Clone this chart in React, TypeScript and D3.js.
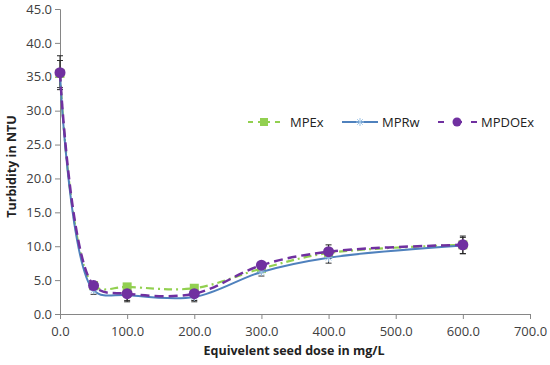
import { useEffect, useRef } from 'react';
import * as d3 from 'd3';

// Turbidity vs seed dose — three smoothed series with error bars, Excel style.

const doses = [0, 50, 100, 200, 300, 400, 600];
const mpex = [35.5, 4.2, 4.0, 3.8, 6.7, 9.0, 10.2];
const mprw = [35.4, 3.5, 2.8, 2.5, 6.2, 8.3, 10.1];
const mpdoex = [35.6, 4.2, 3.0, 3.0, 7.2, 9.2, 10.2];
const mprwErr = [2.0, 0.6, 0.8, 0.7, 0.6, 0.8, 1.2];
const mpdoexErr = [2.5, 0.6, 1.2, 1.0, 0.5, 1.0, 1.3];

const xTicks = [0, 100, 200, 300, 400, 500, 600, 700];
const yTicks = [0, 5, 10, 15, 20, 25, 30, 35, 40, 45];

const GREEN = '#92D050';
const BLUE = '#4F81BD';
const PURPLE = '#7030A0';
const FONT = '"Open Sans", "Liberation Sans", sans-serif';

export default function App() {
  const svgRef = useRef<SVGSVGElement>(null);

  useEffect(() => {
    const svg = d3.select(svgRef.current);
    svg.selectAll('*').remove();

    const x = d3.scaleLinear().domain([0, 700]).range([60, 530]);
    const y = d3.scaleLinear().domain([0, 45]).range([314, 9]);
    const curve = d3.curveCatmullRom.alpha(0.5);

    // Axes
    const xAxis = svg.append('g').attr('transform', `translate(0,${y(0)})`)
      .call(d3.axisBottom(x).tickValues(xTicks).tickFormat(d3.format('.1f')).tickSizeOuter(0).tickSize(5));
    const yAxis = svg.append('g').attr('transform', `translate(${x(0)},0)`)
      .call(d3.axisLeft(y).tickValues(yTicks).tickFormat(d3.format('.1f')).tickSizeOuter(0).tickSize(5));
    for (const ax of [xAxis, yAxis]) {
      ax.select('.domain').attr('stroke', '#868686');
      ax.selectAll('.tick line').attr('stroke', '#868686');
      ax.selectAll('.tick text')
        .attr('fill', '#404040').attr('font-size', 13).attr('font-family', FONT);
    }
    xAxis.selectAll('.tick text').attr('dy', '1.1em');
    yAxis.selectAll('.tick text').attr('x', -8);

    svg.append('text')
      .attr('x', 294).attr('y', 355).attr('text-anchor', 'middle')
      .attr('font-size', 12.5).attr('font-weight', 'bold').attr('font-family', FONT).attr('fill', '#222')
      .text('Equivelent seed dose in mg/L');
    svg.append('text')
      .attr('transform', `translate(16,${(y(0) + y(45)) / 2 + 5}) rotate(-90)`)
      .attr('text-anchor', 'middle')
      .attr('font-size', 12.5).attr('font-weight', 'bold').attr('font-family', FONT).attr('fill', '#222')
      .text('Turbidity in NTU');

    const line = d3.line<number>().x((_, i) => x(doses[i])).y((v) => y(v)).curve(curve);

    // Error bars
    const errs: [number[], number[], string][] = [[mprw, mprwErr, '#333'], [mpdoex, mpdoexErr, '#222']];
    for (const [vals, err, col] of errs) {
      vals.forEach((v, i) => {
        const cx = x(doses[i]);
        const y1 = y(v - err[i]);
        const y2 = y(v + err[i]);
        svg.append('line').attr('x1', cx).attr('x2', cx).attr('y1', y1).attr('y2', y2)
          .attr('stroke', col).attr('stroke-width', 1);
        for (const yy of [y1, y2]) {
          svg.append('line').attr('x1', cx - 3).attr('x2', cx + 3).attr('y1', yy).attr('y2', yy)
            .attr('stroke', col).attr('stroke-width', 1);
        }
      });
    }

    // MPEx — green dash-dot with squares
    svg.append('path').datum(mpex).attr('d', line)
      .attr('fill', 'none').attr('stroke', GREEN).attr('stroke-width', 2.2)
      .attr('stroke-dasharray', '8,4,2,4');
    mpex.forEach((v, i) => {
      svg.append('rect').attr('x', x(doses[i]) - 4.5).attr('y', y(v) - 4.5)
        .attr('width', 9).attr('height', 9).attr('fill', GREEN);
    });

    // MPRw — blue solid with star markers
    svg.append('path').datum(mprw).attr('d', line)
      .attr('fill', 'none').attr('stroke', BLUE).attr('stroke-width', 2);
    const star = (cx: number, cy: number, g: d3.Selection<SVGGElement, unknown, null, undefined>) => {
      const r = 4;
      g.append('path')
        .attr('d', `M${cx - r},${cy}H${cx + r}M${cx - r * 0.7},${cy - r * 0.7}L${cx + r * 0.7},${cy + r * 0.7}M${cx - r * 0.7},${cy + r * 0.7}L${cx + r * 0.7},${cy - r * 0.7}M${cx},${cy - r}V${cy + r}`)
        .attr('stroke', '#9DC3E6').attr('stroke-width', 1).attr('fill', 'none');
    };
    const starG = svg.append('g');
    mprw.forEach((v, i) => star(x(doses[i]), y(v), starG));

    // MPDOEx — purple dashed with circles
    svg.append('path').datum(mpdoex).attr('d', line)
      .attr('fill', 'none').attr('stroke', PURPLE).attr('stroke-width', 2.5)
      .attr('stroke-dasharray', '9,5');
    mpdoex.forEach((v, i) => {
      svg.append('circle').attr('cx', x(doses[i])).attr('cy', y(v)).attr('r', 5.5).attr('fill', PURPLE);
    });

    // Legend
    const ly = 122;
    const lg = svg.append('g').attr('font-family', FONT).attr('font-size', 13).attr('fill', '#222');
    lg.append('line').attr('x1', 248).attr('x2', 280).attr('y1', ly).attr('y2', ly)
      .attr('stroke', GREEN).attr('stroke-width', 2.2).attr('stroke-dasharray', '5,5,12,5,5');
    lg.append('rect').attr('x', 260).attr('y', ly - 4).attr('width', 8).attr('height', 8).attr('fill', GREEN);
    lg.append('text').attr('x', 290).attr('y', ly + 5).text('MPEx');
    lg.append('line').attr('x1', 342).attr('x2', 378).attr('y1', ly).attr('y2', ly)
      .attr('stroke', BLUE).attr('stroke-width', 2);
    const legStar = lg.append('g');
    star(360, ly, legStar);
    lg.append('text').attr('x', 382).attr('y', ly + 5).text('MPRw');
    lg.append('line').attr('x1', 438).attr('x2', 477).attr('y1', ly).attr('y2', ly)
      .attr('stroke', PURPLE).attr('stroke-width', 2.2).attr('stroke-dasharray', '6,9,9,9,6');
    lg.append('circle').attr('cx', 457).attr('cy', ly).attr('r', 4.5).attr('fill', PURPLE);
    lg.append('text').attr('x', 481).attr('y', ly + 5).text('MPDOEx');
  }, []);

  return (
    <svg ref={svgRef} width={550} height={365} style={{ position: 'absolute', left: 0, top: 0, background: '#fff' }} />
  );
}
